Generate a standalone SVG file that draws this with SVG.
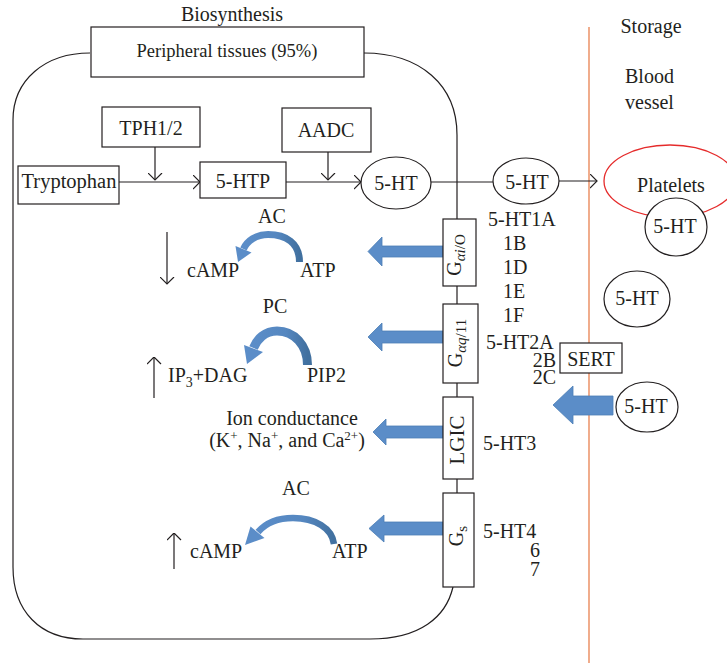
<svg xmlns="http://www.w3.org/2000/svg" width="727" height="663" viewBox="0 0 727 663">
  <defs>
    <style>
      text { font-family: "Liberation Serif", "Times New Roman", serif; font-size: 20px; fill: #231F20; }
      .mid { text-anchor: middle; }
      .end { text-anchor: end; }
      .line { fill: none; stroke: #231F20; stroke-width: 1.2; }
      .box { fill: #FFFFFF; stroke: #231F20; stroke-width: 1.2; }
      .blue { fill: #5B8DC8; stroke: #4B7DB5; stroke-width: 0.8; }
      .curl { fill: none; stroke: url(#curlGrad); stroke-linecap: butt; }
      .curlhead { fill: #5B8DC8; }
      .vessel { fill: none; stroke: #E8804F; stroke-width: 1.3; }
      .platelet { fill: none; stroke: #E52B2B; stroke-width: 1.3; }
    </style>
    <linearGradient id="curlGrad" x1="0" y1="0" x2="1" y2="0">
      <stop offset="0" stop-color="#5B8DC8"/>
      <stop offset="0.6" stop-color="#5587C0"/>
      <stop offset="1" stop-color="#41709F"/>
    </linearGradient>
    <marker id="open" viewBox="0 0 8 15" refX="7.5" refY="7.5" markerWidth="8" markerHeight="15" markerUnits="userSpaceOnUse" orient="auto">
      <path d="M0.5,0.5 L7.5,7.5 L0.5,14.5" fill="none" stroke="#231F20" stroke-width="1.2"/>
    </marker>
  </defs>

  <rect width="727" height="663" fill="#FFFFFF"/>

  <!-- cell outline and blood vessel wall -->
  <g id="cell">
    <path class="line" d="M90,53 C45,53 13,80 13,120 L13,567 C13,611 40,639 83,639 L370,639 C420,639 446,617 453,587"/>
    <path class="line" d="M364,53 C420,53 457,85 457,135 L457,219"/>
    <text class="mid" x="232" y="21">Biosynthesis</text>
  </g>
  <line id="vessel-wall" class="vessel" x1="589" y1="27" x2="589" y2="663"/>

  <g id="labels-storage">
    <text class="mid" x="651" y="33">Storage</text>
    <text x="625" y="83">Blood</text>
    <text x="625" y="109">vessel</text>
  </g>

  <!-- connectors -->
  <g id="connectors">
    <path class="line" d="M119,182 H200" marker-end="url(#open)"/>
    <path class="line" d="M286,182 H361" marker-end="url(#open)"/>
    <path class="line" d="M155,147 V180" marker-end="url(#open)"/>
    <path class="line" d="M328,152 V180" marker-end="url(#open)"/>
    <path class="line" d="M431,182 H493"/>
    <path class="line" d="M559,181 H597" marker-end="url(#open)"/>
    <path class="line" d="M457,286 V304 M457,383 V397 M457,479 V493"/>
    <path class="line" d="M167,232 V284" marker-end="url(#open)"/>
    <path class="line" d="M154,398 V357" marker-end="url(#open)"/>
    <path class="line" d="M174,569 V533" marker-end="url(#open)"/>
    <!-- signalling arrows from receptors -->
    <polygon class="blue" points="443,246 382,246 382,237 368,251.5 382,266 382,257 443,257"/>
    <polygon class="blue" points="443,331 382,331 382,323 368,337 382,351 382,343 443,343"/>
    <polygon class="blue" points="443,426 386,426 386,419 373,432 386,445 386,438 443,438"/>
    <polygon class="blue" points="443,522 384,522 384,515 369,528.5 384,542 384,535 443,535"/>
    <!-- reuptake via SERT -->
    <polygon class="blue" points="613,396 573,396 573,386 553,405 573,424 573,415 613,415"/>
  </g>

  <!-- biosynthesis nodes -->
  <g id="peripheral">
    <rect class="box" x="91" y="27" width="273" height="50"/>
    <text class="mid" x="227" y="57" style="font-size:18.5px">Peripheral tissues (95%)</text>
  </g>
  <g id="tph">
    <rect class="box" x="102" y="107" width="98" height="40"/>
    <text class="mid" x="151" y="135">TPH1/2</text>
  </g>
  <g id="aadc">
    <rect class="box" x="282" y="108" width="89" height="44"/>
    <text class="mid" x="326" y="137">AADC</text>
  </g>
  <g id="tryptophan">
    <rect class="box" x="18" y="166" width="101" height="38"/>
    <text class="mid" x="69" y="188" style="font-size:20.5px">Tryptophan</text>
  </g>
  <g id="htp">
    <rect class="box" x="200" y="162" width="86" height="36"/>
    <text class="mid" x="243" y="188">5-HTP</text>
  </g>
  <g id="ht-cell">
    <ellipse class="box" cx="396" cy="183" rx="35" ry="26"/>
    <text class="mid" x="396" y="190">5-HT</text>
  </g>
  <g id="ht-released">
    <ellipse class="box" cx="526" cy="181" rx="33" ry="23"/>
    <text class="mid" x="527" y="189">5-HT</text>
  </g>

  <!-- blood vessel side -->
  <g id="platelets">
    <ellipse class="platelet" cx="670" cy="181" rx="66" ry="36"/>
    <text class="mid" x="671" y="192">Platelets</text>
  </g>
  <g id="ht-platelet">
    <ellipse class="box" cx="676" cy="227" rx="31" ry="29"/>
    <text class="mid" x="675" y="233">5-HT</text>
  </g>
  <g id="ht-plasma">
    <ellipse class="box" cx="637" cy="299" rx="33" ry="28"/>
    <text class="mid" x="637" y="305">5-HT</text>
  </g>
  <g id="sert">
    <rect class="box" x="560" y="343" width="62" height="30"/>
    <text class="mid" x="591" y="366">SERT</text>
  </g>
  <g id="ht-uptake">
    <ellipse class="box" cx="647" cy="407" rx="31" ry="25"/>
    <text class="mid" x="646" y="413">5-HT</text>
  </g>

  <!-- receptor coupling boxes -->
  <g id="g-io">
    <rect class="box" x="443" y="219" width="33" height="67"/>
    <text class="mid" transform="translate(461,255) rotate(-90)">G<tspan dy="4" style="font-size:15px;font-style:italic">αi</tspan><tspan style="font-size:15px">/O</tspan></text>
  </g>
  <g id="g-q11">
    <rect class="box" x="443" y="304" width="35" height="79"/>
    <text class="mid" transform="translate(462,343) rotate(-90)">G<tspan dy="4" style="font-size:15px;font-style:italic">αq</tspan><tspan style="font-size:15px">/11</tspan></text>
  </g>
  <g id="lgic">
    <rect class="box" x="443" y="397" width="30" height="82"/>
    <text class="mid" transform="translate(464,440) rotate(-90)" style="font-size:21px">LGIC</text>
  </g>
  <g id="g-s">
    <rect class="box" x="443" y="493" width="31" height="94"/>
    <text class="mid" transform="translate(463,536) rotate(-90)">G<tspan dy="4" style="font-size:15px">s</tspan></text>
  </g>

  <!-- receptor subtypes -->
  <g id="subtypes">
    <text x="488" y="226">5-HT1A</text>
    <text x="503" y="250">1B</text>
    <text x="503" y="274">1D</text>
    <text x="503" y="298">1E</text>
    <text x="503" y="322">1F</text>
    <text x="486" y="349">5-HT2A</text>
    <text class="end" x="556" y="367">2B</text>
    <text class="end" x="556" y="384">2C</text>
    <text x="483" y="450">5-HT3</text>
    <text x="483" y="538">5-HT4</text>
    <text class="end" x="540" y="557">6</text>
    <text class="end" x="540" y="576">7</text>
  </g>

  <!-- Gi/o: adenylyl cyclase inhibited -->
  <g id="ac-inhibit">
    <text class="mid" x="272" y="223">AC</text>
    <path class="curl" stroke-width="7" d="M299.5,262 C299.5,243 286,234.5 268,234.5 C256,234.5 247,241 243.5,249"/>
    <polygon class="curlhead" points="235.5,246 251.5,252.5 238,262"/>
    <text x="187" y="277">cAMP</text>
    <text x="300" y="277">ATP</text>
  </g>

  <!-- Gq/11: phospholipase C -->
  <g id="pc">
    <text class="mid" x="275" y="313">PC</text>
    <path class="curl" stroke-width="9" d="M307.5,365 C307.5,345 294,331 277,331 C265,331 257,339 253.5,348"/>
    <polygon class="curlhead" points="244,345 263,352 247,364"/>
    <text x="168" y="382">IP<tspan dy="5" style="font-size:14px">3</tspan><tspan dy="-5">+DAG</tspan></text>
    <text x="307" y="382">PIP2</text>
  </g>

  <!-- ligand-gated ion channel -->
  <g id="ion">
    <text class="mid" x="292" y="425">Ion conductance</text>
    <text class="mid" x="287" y="447">(K<tspan dy="-7" style="font-size:13px">+</tspan><tspan dy="7">, Na</tspan><tspan dy="-7" style="font-size:13px">+</tspan><tspan dy="7">, and Ca</tspan><tspan dy="-7" style="font-size:13px">2+</tspan><tspan dy="7">)</tspan></text>
  </g>

  <!-- Gs: adenylyl cyclase stimulated -->
  <g id="ac-stimulate">
    <text class="mid" x="296" y="495">AC</text>
    <path class="curl" stroke-width="6.5" d="M334,544 C332,528 315,518 293,518 C277,518 265,524 258,532"/>
    <polygon class="curlhead" points="250.5,526.5 264.5,538 245,545"/>
    <text x="190" y="558">cAMP</text>
    <text x="332" y="558">ATP</text>
  </g>
</svg>
